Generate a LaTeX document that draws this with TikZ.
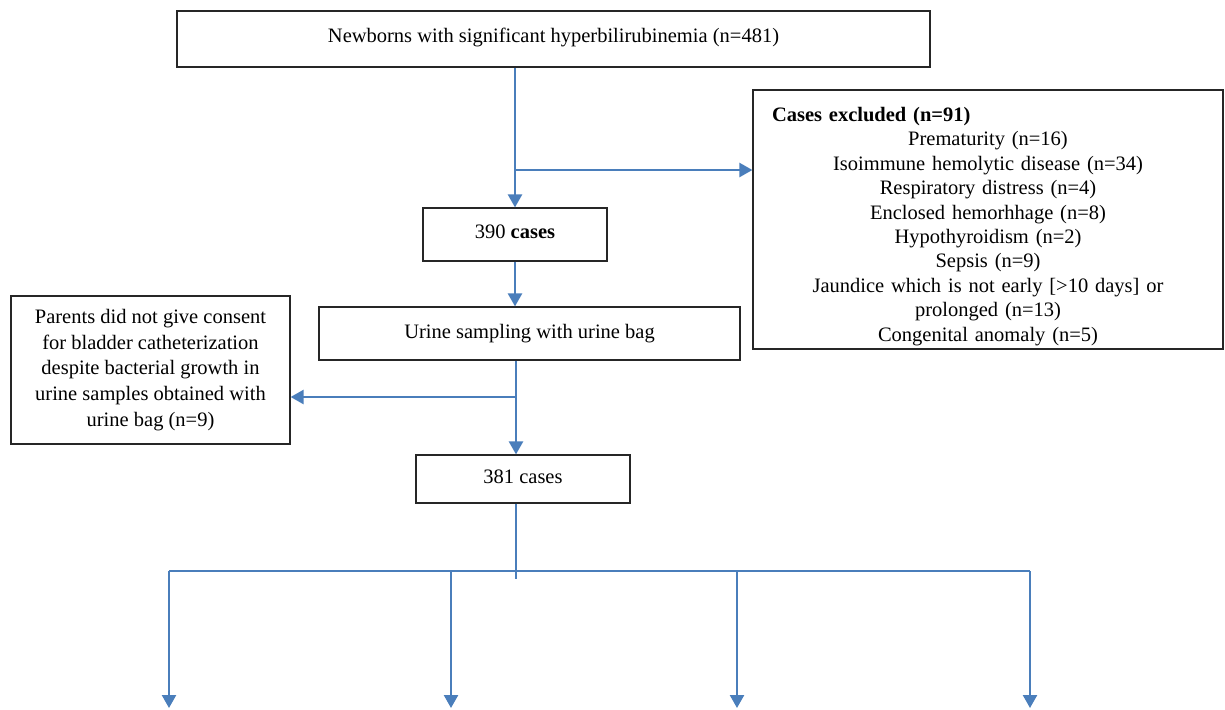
\documentclass[tikz,border=0pt]{standalone}
\usepackage{fontspec}
\setmainfont{Liberation Serif}
\usetikzlibrary{arrows.meta}

\definecolor{flowblue}{HTML}{4A7EBB}

\newcommand*{\splity}{571}
\newcommand*{\arrowend}{708}

\begin{document}
\begin{tikzpicture}
[
	box/.style={draw=black!85,line width=0.6pt,inner sep=0pt,align=center,font=\fontsize{10.25}{12.4}\selectfont},
	flow/.style={flowblue,line width=1.2pt},
	flowarrow/.style={flow,-{Triangle[width=7pt,length=6.5pt]}},
	x=0.5pt,y=-0.5pt
]
	\useasboundingbox (0,0) rectangle (1225,709);

	% boxes
	\node[box,minimum width=376.5pt,minimum height=28pt] at (553.5,39) (all) {Newborns with significant hyperbilirubinemia (n=481)\rule[-4pt]{0pt}{1pt}};
	\node[box,minimum width=92pt,minimum height=26.5pt] at (515,234.5) (n390) {390 \textbf{cases}\rule[-3pt]{0pt}{1pt}};
	\node[box,minimum width=210.5pt,minimum height=26.5pt] at (529.5,333.5) (urine) {Urine sampling with urine bag\rule[-2pt]{0pt}{1pt}};
	\node[box,minimum width=107pt,minimum height=24pt] at (523,479) (n381) {381 cases\rule[-2pt]{0pt}{1pt}};

	\node[box,minimum width=139.5pt,minimum height=74pt,font=\fontsize{10.25}{12.8}\selectfont] at (150.5,370) (nobag)
		{Parents did not give consent\\for bladder catheterization\\despite bacterial growth in\\urine samples obtained with\\urine bag (n=9)};

	\node[box,minimum width=235pt,minimum height=129.5pt,text width=216pt,font=\fontsize{10.25}{12.2}\selectfont] at (988,219.5) (excl)
		{\makebox[\hsize][l]{\rule{0pt}{14pt}\textbf{Cases excluded (n=91)}}\\
		Prematurity (n=16)\\
		Isoimmune hemolytic disease (n=34)\\
		Respiratory distress (n=4)\\
		Enclosed hemorhhage (n=8)\\
		Hypothyroidism (n=2)\\
		Sepsis (n=9)\\
		Jaundice which is not early [\textgreater10 days] or\\
		prolonged (n=13)\\
		Congenital anomaly (n=5)};

	% main flow
	\coordinate (exclsplit) at (515,170);
	\coordinate (bagsplit) at (516,397);
	\coordinate (stem) at (516,579);

	\draw[flowarrow] (all.south -| n390.north) -- (n390.north);
	\draw[flowarrow] (exclsplit) -- (exclsplit -| excl.west);
	\draw[flowarrow] (n390.south) -- (n390.south |- urine.north);
	\draw[flowarrow] (urine.south -| bagsplit) -- (n381.north -| bagsplit);
	\draw[flowarrow] (bagsplit) -- (bagsplit -| nobag.east);

	% split into four groups
	\draw[flow] (n381.south -| stem) -- (stem);
	\draw[flow] (169,\splity) -- (1030,\splity);
	\foreach \x [count=\i] in {169,451,737,1030}
	{
		\coordinate (top\i) at (\x,\splity);
		\coordinate (end\i) at (\x,\arrowend);
		\draw[flowarrow] (top\i) -- (end\i);
	}

\end{tikzpicture}
\end{document}
